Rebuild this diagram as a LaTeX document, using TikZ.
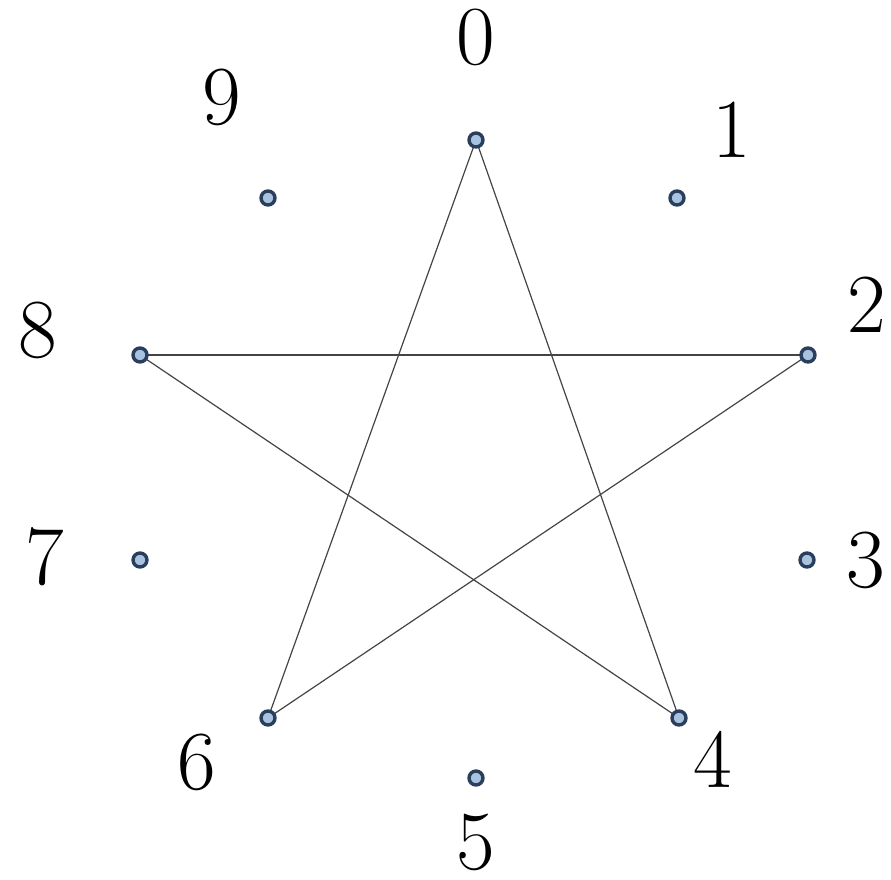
\documentclass[tikz,border=0pt]{standalone}
\begin{document}
\begin{tikzpicture}[x=1pt,y=-1pt,
  vert/.style={circle,draw=vertline,fill=vertfill,line width=3.4pt,minimum size=14pt,inner sep=0pt},
  lbl/.style={inner sep=0pt,font=\rmfamily\fontsize{84}{90}\selectfont},
  edge/.style={draw=edgecol,line width=1.2pt}]
\definecolor{vertline}{HTML}{2A3F5C}
\definecolor{vertfill}{HTML}{A9C2E0}
\definecolor{edgecol}{HTML}{444444}
\useasboundingbox (0,0) rectangle (891,880);
\draw[edge] (476,140) -- (679,718);
\draw[edge] (476,140) -- (268,718);
\draw[edge] (140,355) -- (808,355);
\draw[edge] (140,355) -- (679,718);
\draw[edge] (808,355) -- (268,718);
\node[vert] (v0) at (476,140) {};
\node[vert] (v1) at (677,198) {};
\node[vert] (v2) at (808,355) {};
\node[vert] (v3) at (807,560) {};
\node[vert] (v4) at (679,718) {};
\node[vert] (v5) at (476,778) {};
\node[vert] (v6) at (268,718) {};
\node[vert] (v7) at (140,560) {};
\node[vert] (v8) at (140,355) {};
\node[vert] (v9) at (268,198) {};
\node[lbl] (l0) at (476,37) {0};
\node[lbl] (l1) at (732,130) {1};
\node[lbl] (l2) at (867,305) {2};
\node[lbl] (l3) at (866,560) {3};
\node[lbl] (l4) at (713,759) {4};
\node[lbl] (l5) at (476,842) {5};
\node[lbl] (l6) at (197,762) {6};
\node[lbl] (l7) at (45,557) {7};
\node[lbl] (l8) at (38,330) {8};
\node[lbl] (l9) at (222,97) {9};
\end{tikzpicture}
\end{document}
